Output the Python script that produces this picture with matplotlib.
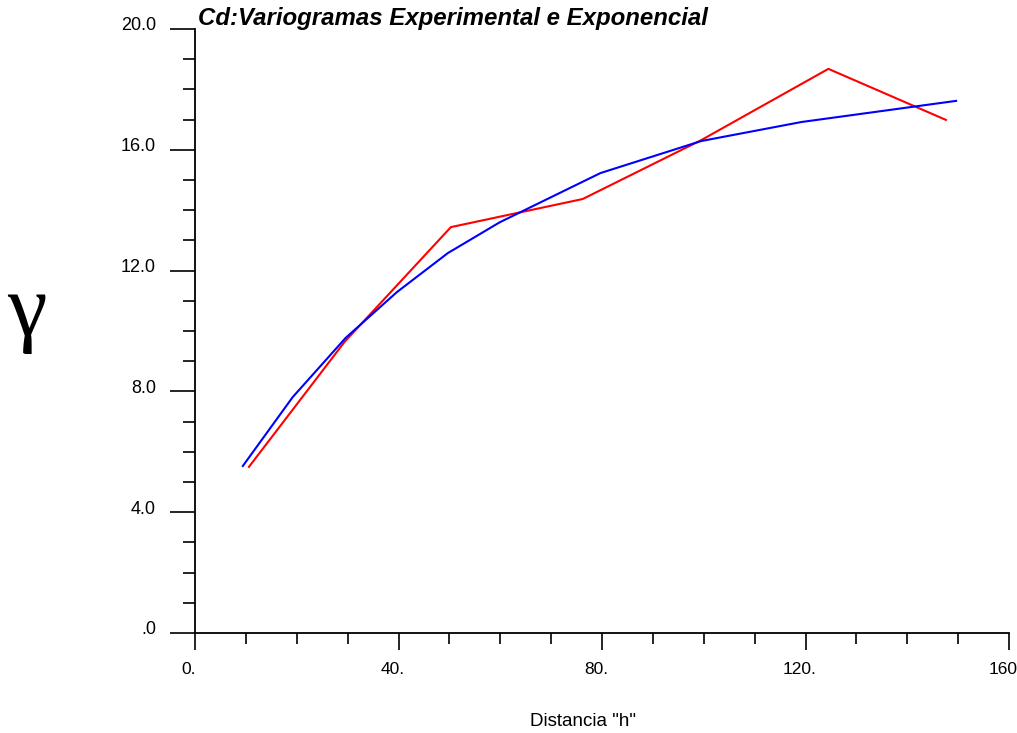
import matplotlib
matplotlib.use("Agg")
import matplotlib.pyplot as plt
from matplotlib.transforms import ScaledTranslation

# Experimental variogram (red)
exp_h = [10.6, 29.4, 50.3, 76.2, 99.5, 124.5, 147.6]
exp_gamma = [5.50, 9.64, 13.44, 14.37, 16.32, 18.68, 16.99]

# Exponential model (blue)
mod_h = [9.4, 19.2, 29.6, 39.7, 49.7, 59.9, 79.7, 99.5, 119.2, 149.6]
mod_gamma = [5.53, 7.81, 9.77, 11.29, 12.58, 13.60, 15.23, 16.29, 16.92, 17.62]

x_ticks = [0, 40, 80, 120, 160]
x_labels = ["0.", "40.", "80.", "120.", "160"]
y_ticks = [0, 4, 8, 12, 16, 20]
y_labels = [".0", "4.0", "8.0", "12.0", "16.0", "20.0"]

plt.rcParams['font.family'] = ['Liberation Sans', 'DejaVu Sans']

fig = plt.figure(figsize=(10.17, 7.33), dpi=100)
ax = fig.add_axes([195 / 1017, 100 / 733, 814 / 1017, 604 / 733])

ax.plot(exp_h, exp_gamma, color='#ff0000', linewidth=1.5)
ax.plot(mod_h, mod_gamma, color='#0000ff', linewidth=1.5)

ax.set_xlim(0, 160)
ax.set_ylim(0, 20)

for side in ['top', 'right']:
    ax.spines[side].set_visible(False)
for side in ['left', 'bottom']:
    ax.spines[side].set_linewidth(1.3)
    ax.spines[side].set_color('black')

ax.set_xticks(x_ticks)
ax.set_xticklabels(x_labels)
ax.set_xticks(range(0, 161, 10), minor=True)
ax.set_yticks(y_ticks)
ax.set_yticklabels(y_labels)
ax.set_yticks(range(0, 21), minor=True)

ax.tick_params(axis='x', which='major', direction='out', length=12, width=1.2, pad=9, labelsize=12.5)
ax.tick_params(axis='x', which='minor', direction='out', length=8, width=1.2)
ax.tick_params(axis='y', which='major', direction='out', length=18, width=1.2, pad=10, labelsize=13)
ax.tick_params(axis='y', which='minor', direction='out', length=8.5, width=1.2)

# nudge tick labels like the original
for lbl in ax.get_yticklabels():
    lbl.set_transform(lbl.get_transform() + ScaledTranslation(0, 5 / 100, fig.dpi_scale_trans))
for lbl in ax.get_xticklabels():
    lbl.set_transform(lbl.get_transform() + ScaledTranslation(-6 / 100, 0, fig.dpi_scale_trans))

ax.set_xlabel('Distancia "h"', fontsize=13.5)
ax.xaxis.set_label_coords((583 - 195) / 814, -(722 - 633) / 604)
ax.xaxis.label.set_va('center')

fig.text(198 / 1017, 1 - 18 / 733, 'Cd:Variogramas Experimental e Exponencial',
         fontsize=17.3, fontweight='bold', fontstyle='italic', ha='left', va='center')

fig.text(27 / 1017, 1 - 314 / 733, '\u03b3', family=['Liberation Serif', 'DejaVu Serif'],
         fontsize=64, ha='center', va='center')

fig.savefig('out.png', dpi=100)
